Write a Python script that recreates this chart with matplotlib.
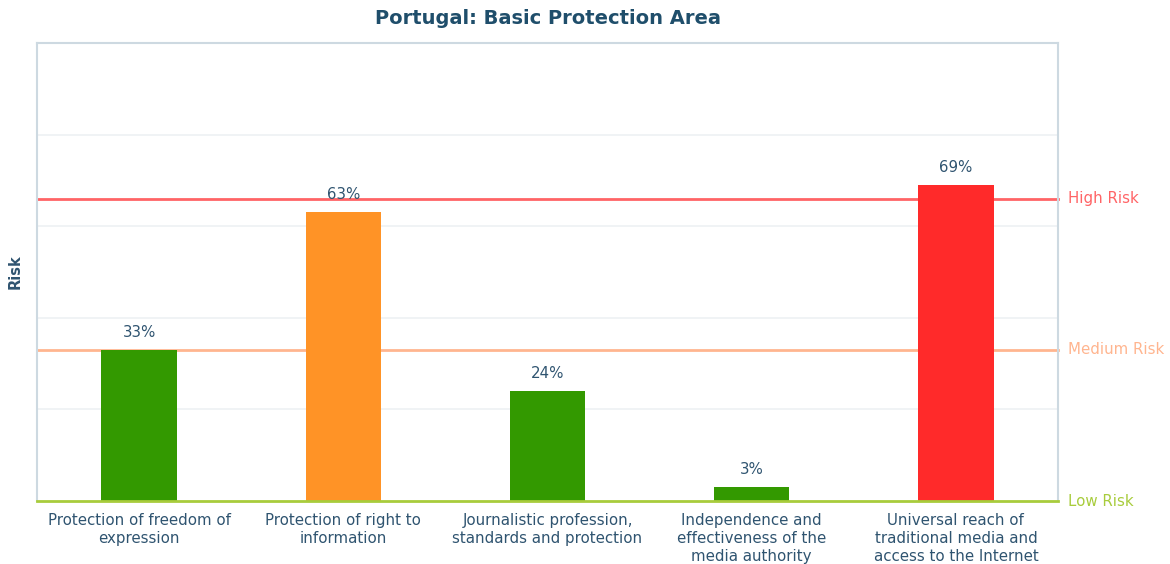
import matplotlib.pyplot as plt

categories = [
    "Protection of freedom of\nexpression",
    "Protection of right to\ninformation",
    "Journalistic profession,\nstandards and protection",
    "Independence and\neffectiveness of the\nmedia authority",
    "Universal reach of\ntraditional media and\naccess to the Internet",
]
values = [33, 63, 24, 3, 69]
bar_colors = ["#339900", "#ff9326", "#339900", "#339900", "#ff2a2a"]
thresholds = [0, 33, 66]
threshold_labels = ["Low Risk", "Medium Risk", "High Risk"]
threshold_colors = ["#a8cc3c", "#ffb58f", "#ff6466"]

text_color = "#2f5470"
spine_color = "#cdd9e1"

fig = plt.figure(figsize=(11.7, 5.64), dpi=100)
ax = fig.add_axes([0.0316, 0.1117, 0.8727, 0.8121])

x = range(len(categories))
bars = ax.bar(x, values, width=0.37, color=bar_colors, zorder=3)

for b, v in zip(bars, values):
    ax.text(b.get_x() + b.get_width() / 2, v + 2.2, f"{v}%", ha="center", va="bottom",
            fontsize=10.8, color=text_color, zorder=4)

for t, lab, c in zip(thresholds, threshold_labels, threshold_colors):
    ax.axhline(t, color=c, lw=2, zorder=2 if t > 0 else 5, clip_on=False)
    ax.text(1.01, t, lab, transform=ax.get_yaxis_transform(), ha="left", va="center",
            fontsize=10.8, color=c)

ax.set_xlim(-0.5, 4.5)
ax.set_ylim(0, 100)
ax.set_yticks([20, 40, 60, 80])
ax.yaxis.grid(True, color="#edf1f4", lw=1.2, zorder=0)
ax.tick_params(axis="y", left=False, labelleft=False)
ax.tick_params(axis="x", bottom=False, pad=5)
ax.set_xticks(list(x))
ax.set_xticklabels(categories, fontsize=10.8, color=text_color, linespacing=1.25)

for s in ["left", "top", "right"]:
    ax.spines[s].set_color(spine_color)
    ax.spines[s].set_linewidth(1.5)
ax.spines["bottom"].set_visible(False)

ax.set_ylabel("Risk", fontsize=10.5, fontweight="bold", color=text_color, labelpad=10)
ax.set_title("Portugal: Basic Protection Area", fontsize=14, fontweight="bold",
             color="#1f4e6b", pad=14)

fig.savefig("out.png", dpi=100)
